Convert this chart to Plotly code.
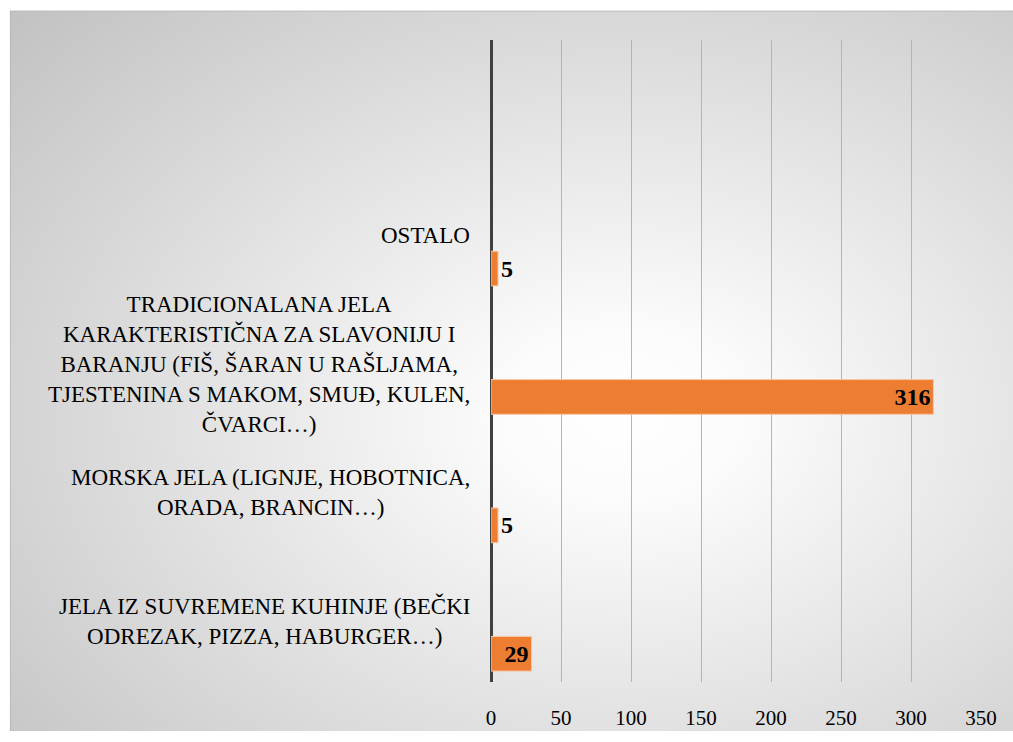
import base64
import plotly.graph_objects as go

# Categories from bottom to top
categories = [
    "JELA IZ SUVREMENE KUHINJE (BEČKI ODREZAK, PIZZA, HABURGER…)",
    "MORSKA JELA (LIGNJE, HOBOTNICA, ORADA, BRANCIN…)",
    "TRADICIONALANA JELA KARAKTERISTIČNA ZA SLAVONIJU I BARANJU (FIŠ, ŠARAN U RAŠLJAMA, TJESTENINA S MAKOM, SMUĐ, KULEN, ČVARCI…)",
    "OSTALO",
]
wrapped_labels = [
    "JELA IZ SUVREMENE KUHINJE (BEČKI<br>ODREZAK, PIZZA, HABURGER…)",
    "MORSKA JELA (LIGNJE, HOBOTNICA,<br>ORADA, BRANCIN…)",
    "TRADICIONALANA JELA<br>KARAKTERISTIČNA ZA SLAVONIJU I<br>BARANJU (FIŠ, ŠARAN U RAŠLJAMA,<br>TJESTENINA S MAKOM, SMUĐ, KULEN,<br>ČVARCI…)",
    "OSTALO",
]
values = [29, 5, 316, 5]
x_ticks = [0, 50, 100, 150, 200, 250, 300, 350]

FONT = "Liberation Serif, Times New Roman, serif"

# radial gradient background for the chart area
svg = (
    "<svg xmlns='http://www.w3.org/2000/svg' width='1004' height='732' "
    "viewBox='0 0 1004 732' preserveAspectRatio='none'>"
    "<defs><radialGradient id='g' cx='0.61' cy='0.56' r='0.82'>"
    "<stop offset='0' stop-color='#ffffff'/>"
    "<stop offset='0.15' stop-color='#fbfbfb'/>"
    "<stop offset='1' stop-color='#c2c2c2'/>"
    "</radialGradient></defs>"
    "<rect x='0' y='0' width='1004' height='732' fill='url(#g)'/>"
    "<path d='M0.5 732 L0.5 0.5 L1004 0.5' fill='none' stroke='#b8b8b8' stroke-width='1'/>"
    "</svg>"
)
bg_src = "data:image/svg+xml;base64," + base64.b64encode(svg.encode("utf-8")).decode()

text_pos = ["inside" if v > 20 else "outside" for v in values]

fig = go.Figure()
fig.add_trace(go.Bar(
    x=values,
    y=categories,
    orientation="h",
    width=0.27,
    offset=-0.415,
    marker=dict(color="#ED7D31", line=dict(color="#f6c7a6", width=1)),
    text=[str(v) for v in values],
    textposition=text_pos,
    insidetextanchor="end",
    textangle=0,
    constraintext="none",
    cliponaxis=False,
    textfont=dict(family=FONT, size=24, color="black", weight="bold"),
    hoverinfo="x+y",
))

for cat, lab in zip(categories, wrapped_labels):
    fig.add_annotation(
        x=-0.039, xref="paper", y=cat, yref="y", yshift=-3,
        text=lab, showarrow=False,
        xanchor="right", yanchor="middle", align="center",
        font=dict(family=FONT, size=23, color="black"),
    )

fig.add_layout_image(
    source=bg_src, xref="paper", yref="paper",
    x=-0.98211, y=1.04601, sizex=2.04898, sizey=1.12270,
    sizing="stretch", xanchor="left", yanchor="top", layer="below",
)

fig.update_layout(
    width=1013, height=742,
    margin=dict(l=491, r=32, t=40, b=50),
    paper_bgcolor="white",
    plot_bgcolor="rgba(0,0,0,0)",
    showlegend=False,
    font=dict(family=FONT, color="black"),
    xaxis=dict(
        range=[0, 350], tickvals=x_ticks,
        showgrid=True, gridcolor="#b4b4b4", gridwidth=1,
        zeroline=True, zerolinecolor="#404040", zerolinewidth=3,
        showline=False,
        ticks="outside", ticklen=17, tickcolor="rgba(0,0,0,0)",
        tickfont=dict(family=FONT, size=21, color="black"),
    ),
    yaxis=dict(
        type="category", categoryorder="array", categoryarray=categories,
        range=[-0.5, 4.5],
        showgrid=False, showticklabels=False, zeroline=False, showline=False,
        ticks="",
    ),
)

# remove the default page margin so the figure sits at the window's corner
fig.write_html(
    "out.html",
    config={"displayModeBar": False},
    post_script="document.body.style.margin='0';document.body.style.overflow='hidden';",
)
